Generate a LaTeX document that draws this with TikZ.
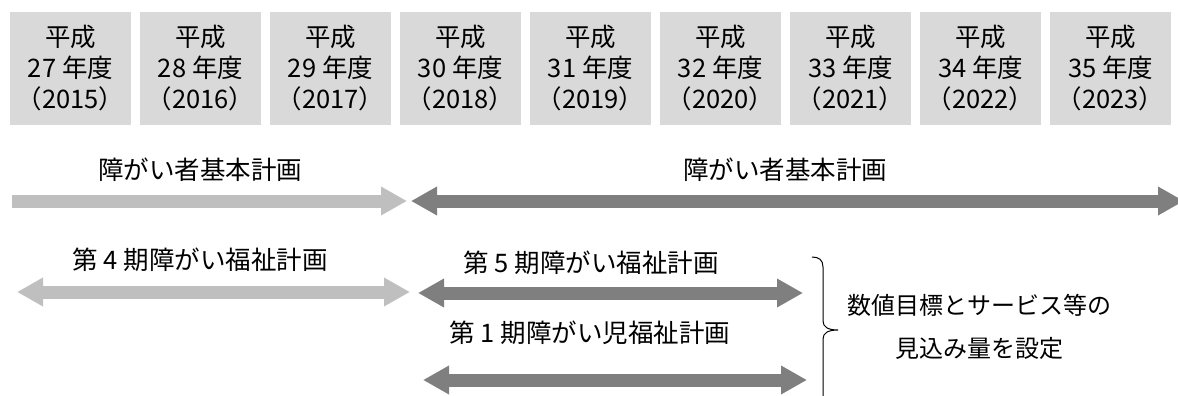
\documentclass[tikz,border=0pt]{standalone}
\usepackage{fontspec}
\setmainfont{Noto Sans CJK JP}
\usetikzlibrary{arrows.meta}
\definecolor{hdr}{HTML}{D9D9D9}
\definecolor{lite}{HTML}{BFBFBF}
\definecolor{dark}{HTML}{7F7F7F}
\tikzset{
  yearbox/.style={fill=hdr, minimum width=121pt, minimum height=113pt, inner sep=0pt, align=center},
  lbl/.style={inner sep=0pt, anchor=center},
  bar/.style={line width=13pt},
  tip/.tip={Triangle[width=27pt,length=26pt]},
  onehead/.style={bar,-tip},
  twohead/.style={bar,tip-tip},
  bracestyle/.style={line width=1pt}
}
\begin{document}
\begin{tikzpicture}[x=1pt,y=-1pt,font=\fontsize{25.5}{31}\selectfont]
\useasboundingbox (0,0) rectangle (1178,396);
\clip (0,0) rectangle (1178,396);
\foreach \i/\h/\y in {0/27/2015,1/28/2016,2/29/2017,3/30/2018,4/31/2019,5/32/2020,6/33/2021,7/34/2022,8/35/2023}{
  \node[yearbox] (y\i) at ({70.5+130*\i},68.5) {平成\\\h\ 年度\\（\y）};
}
% row 1
\node[lbl] (p1) at (200,170) {障がい者基本計画};
\node[lbl] (p2) at (785,170) {障がい者基本計画};
\coordinate (a1s) at (12,201);
\coordinate (a1e) at (407,201);
\coordinate (b1s) at (411,201);
\coordinate (b1e) at (1184,201);
\draw[onehead,lite] (a1s) -- (a1e);
\draw[twohead,dark] (b1s) -- (b1e);
% row 2
\node[lbl] (w4) at (200,260) {第 4 期障がい福祉計画};
\node[lbl] (w5) at (591,263) {第 5 期障がい福祉計画};
\coordinate (a2s) at (17,292);
\coordinate (a2e) at (410,292);
\coordinate (b2s) at (418,293);
\coordinate (b2e) at (803,293);
\draw[twohead,lite] (a2s) -- (a2e);
\draw[twohead,dark] (b2s) -- (b2e);
% row 3
\node[lbl] (c1) at (590,333) {第 1 期障がい児福祉計画};
\coordinate (b3s) at (423,380);
\coordinate (b3e) at (807,380);
\draw[twohead,dark] (b3s) -- (b3e);
% brace
\coordinate (brt) at (812,257);
\coordinate (brm) at (838,330);
\coordinate (brb) at (823,400);
\draw[bracestyle] (brt) .. controls (819,257) and (823,260) .. (823,267) -- (823,321)
  .. controls (823,327) and (828,330) .. (brm)
  .. controls (828,330) and (823,333) .. (823,339) -- (brb);
\node[lbl,align=center,font=\fontsize{24}{43}\selectfont] (goal) at (979,326.5) {数値目標とサービス等の\\見込み量を設定};
\end{tikzpicture}
\end{document}
